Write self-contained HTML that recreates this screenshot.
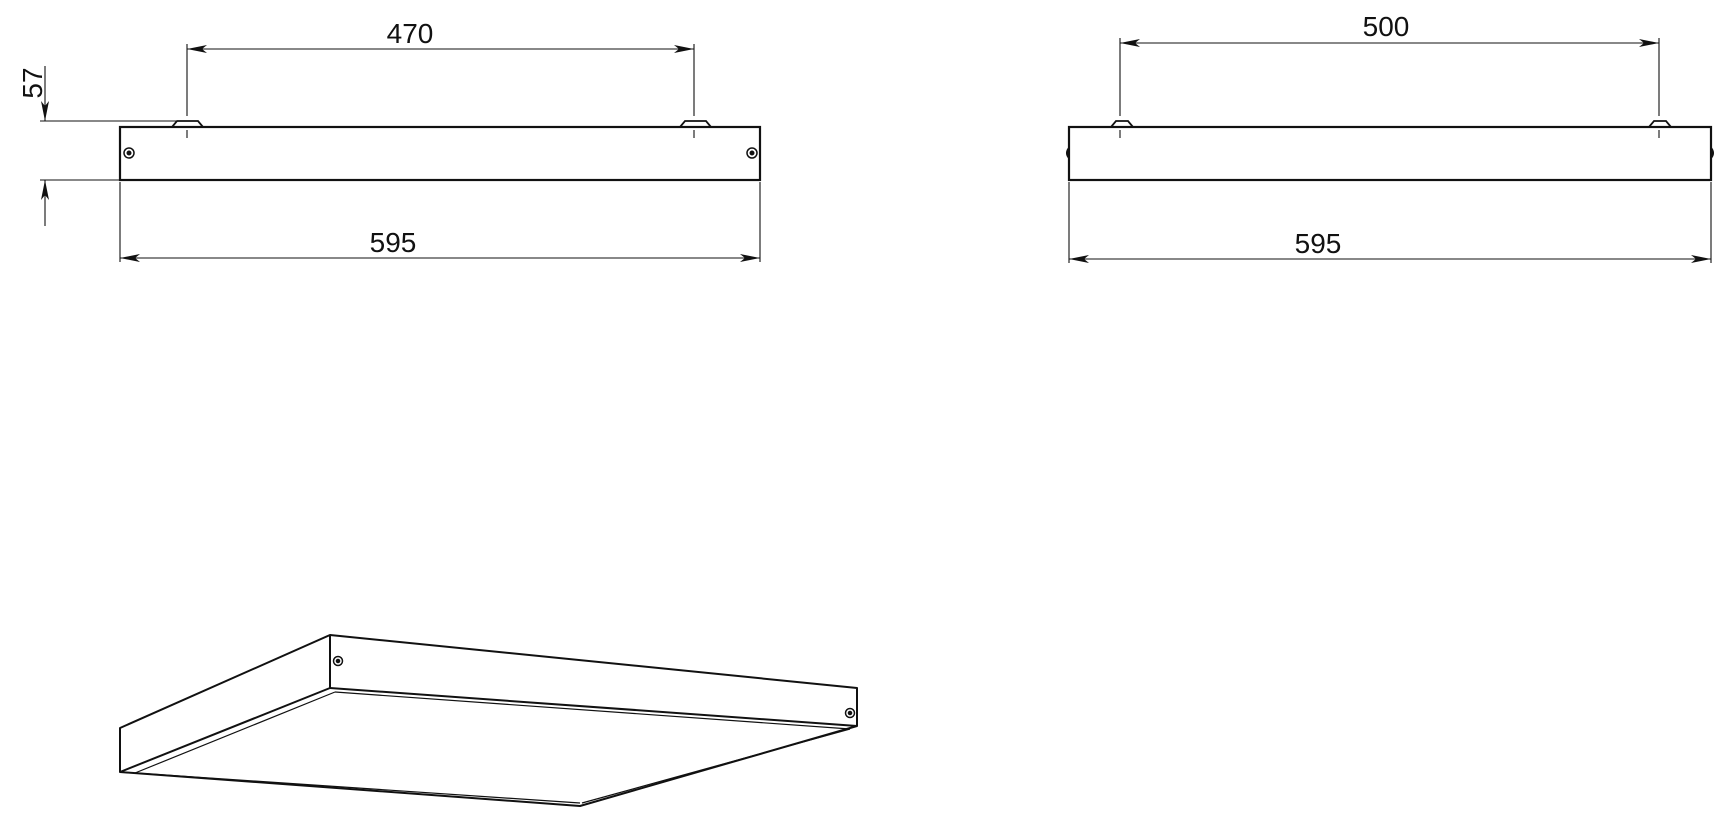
<!DOCTYPE html>
<html><head><meta charset="utf-8"><style>
html,body{margin:0;padding:0;background:#fff;}
svg{display:block}
text{font-family:"Liberation Sans",sans-serif;font-size:28px;fill:#111;}
</style></head><body>
<svg width="1725" height="821" viewBox="0 0 1725 821" xmlns="http://www.w3.org/2000/svg">
<defs>
<marker id="a" viewBox="0 0 20 8" refX="20" refY="4" markerWidth="20" markerHeight="8" markerUnits="userSpaceOnUse" orient="auto-start-reverse">
<path d="M0,0 L20,4 L0,8 L5,4 Z" fill="#111"/></marker>
</defs>
<g stroke="#111" fill="none">
<rect x="120" y="127" width="640" height="53" stroke-width="2.2"/>
<path d="M172,127 L177,121 L198,121 L203,127" stroke-width="1.8"/>
<path d="M680,127 L685,121 L706,121 L711,127" stroke-width="1.8"/>
<circle cx="129" cy="153" r="5" stroke-width="1.5"/><circle cx="129" cy="153" r="2" fill="#111"/>
<circle cx="752" cy="153" r="5" stroke-width="1.5"/><circle cx="752" cy="153" r="2" fill="#111"/>
<g stroke-width="1.1">
<line x1="187" y1="44" x2="187" y2="116"/><line x1="187" y1="130" x2="187" y2="138" />
<line x1="694" y1="44" x2="694" y2="116"/><line x1="694" y1="130" x2="694" y2="138"/>
<line x1="187" y1="49" x2="694" y2="49" marker-start="url(#a)" marker-end="url(#a)"/>
<line x1="120" y1="182" x2="120" y2="262"/><line x1="760" y1="182" x2="760" y2="262"/>
<line x1="120" y1="258" x2="760" y2="258" marker-start="url(#a)" marker-end="url(#a)"/>
<line x1="40" y1="121" x2="176" y2="121"/><line x1="40" y1="180" x2="120" y2="180"/>
<line x1="45" y1="66" x2="45" y2="121" marker-end="url(#a)"/>
<line x1="45" y1="226" x2="45" y2="180" marker-end="url(#a)"/>
</g>
<rect x="1069" y="127" width="642" height="53" stroke-width="2.2"/>
<path d="M1111,127 L1116,121 L1128,121 L1133,127" stroke-width="1.8"/>
<path d="M1649,127 L1654,121 L1666,121 L1671,127" stroke-width="1.8"/>
<path d="M1069,148 Q1065,153 1069,158" stroke-width="2"/>
<path d="M1711,148 Q1715,153 1711,158" stroke-width="2"/>
<g stroke-width="1.1">
<line x1="1120" y1="38" x2="1120" y2="116"/><line x1="1120" y1="130" x2="1120" y2="138"/>
<line x1="1659" y1="38" x2="1659" y2="116"/><line x1="1659" y1="130" x2="1659" y2="138"/>
<line x1="1120" y1="43" x2="1659" y2="43" marker-start="url(#a)" marker-end="url(#a)"/>
<line x1="1069" y1="182" x2="1069" y2="263"/><line x1="1711" y1="182" x2="1711" y2="263"/>
<line x1="1069" y1="259" x2="1711" y2="259" marker-start="url(#a)" marker-end="url(#a)"/>
</g>
<g stroke-width="2" stroke-linejoin="round">
<path d="M330,635 L857,688 L857,726 L580,806 L120,772 L120,728 Z"/>
<line x1="330" y1="635" x2="330" y2="688"/>
<line x1="330" y1="688" x2="857" y2="726"/>
<line x1="330" y1="688" x2="120" y2="772"/>
</g>
<g stroke-width="1.2">
<line x1="335" y1="692" x2="850" y2="729"/>
<line x1="335" y1="692" x2="135" y2="773"/>
<line x1="850" y1="729" x2="582" y2="803"/>
<line x1="135" y1="773" x2="580" y2="803"/>
</g>
<circle cx="338" cy="661" r="4.5" stroke-width="1.5"/><circle cx="338" cy="661" r="1.8" fill="#111"/>
<circle cx="850" cy="713" r="4.5" stroke-width="1.5"/><circle cx="850" cy="713" r="1.8" fill="#111"/>
</g>
<text x="410" y="43" text-anchor="middle">470</text>
<text x="393" y="252" text-anchor="middle">595</text>
<text x="1386" y="36" text-anchor="middle">500</text>
<text x="1318" y="253" text-anchor="middle">595</text>
<text transform="translate(42,83) rotate(-90)" text-anchor="middle">57</text>
</svg>
</body></html>
